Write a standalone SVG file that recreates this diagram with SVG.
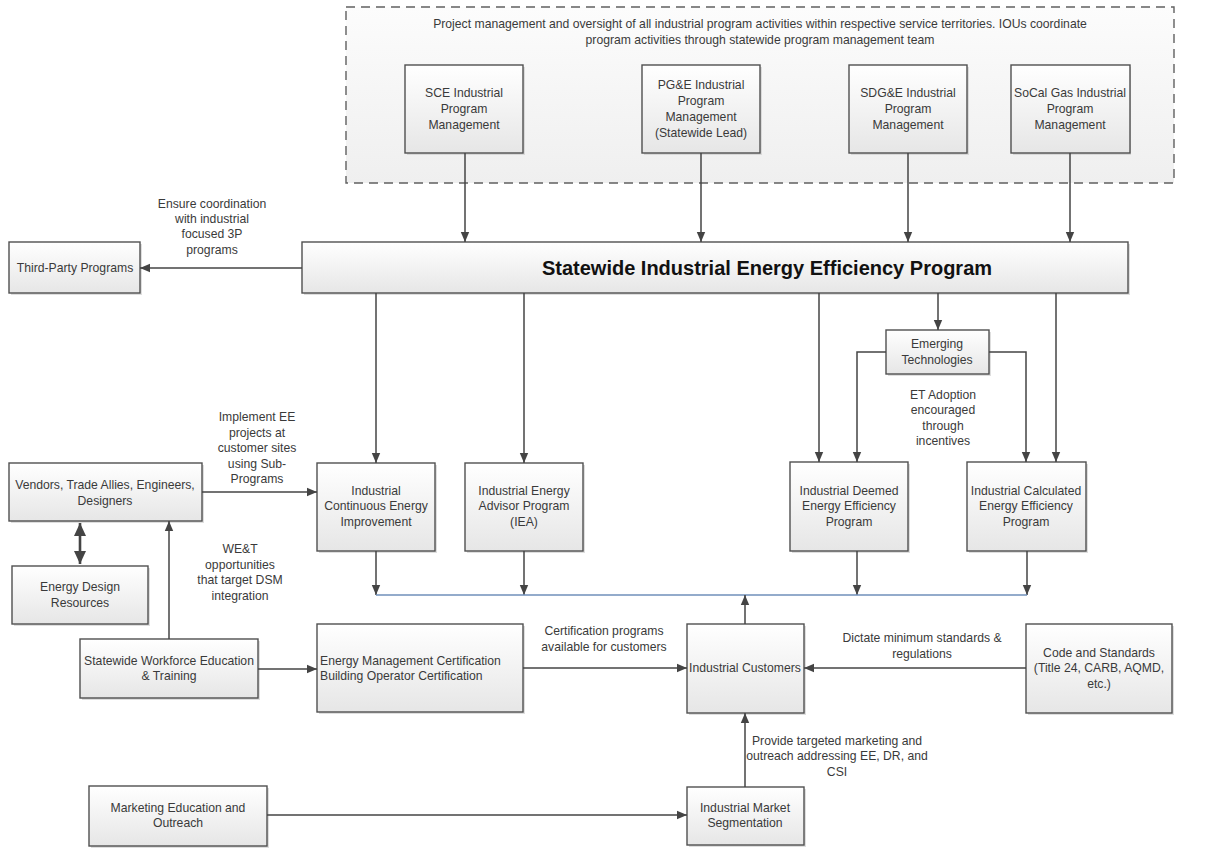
<svg xmlns="http://www.w3.org/2000/svg" width="1222" height="848" viewBox="0 0 1222 848">
<style>
text{font-family:"Liberation Sans",Arial,sans-serif;font-size:12.2px;fill:#3a3a3a;text-anchor:middle}
.l{text-anchor:start}
.title{font-size:20px;font-weight:bold;fill:#111}
.box{fill:url(#g);stroke:#505050;stroke-width:1.4}
.sh{fill:#c8c8c8;opacity:.6}
.c{fill:none;stroke:#444;stroke-width:1.5}
.blue{fill:none;stroke:#6f8fba;stroke-width:1.6}
.dbl{fill:none;stroke:#444;stroke-width:2.6}
</style>
<defs>
<linearGradient id="g" x1="0" y1="0" x2="0" y2="1"><stop offset="0" stop-color="#ffffff"/><stop offset="1" stop-color="#e6e6e6"/></linearGradient>
<linearGradient id="gc" x1="0" y1="0" x2="0" y2="1"><stop offset="0" stop-color="#fcfcfc"/><stop offset="1" stop-color="#efefef"/></linearGradient>
<marker id="a" markerUnits="userSpaceOnUse" markerWidth="10" markerHeight="10" refX="10" refY="5" orient="auto"><path d="M0,0.8 L10,5 L0,9.2 z" fill="#444"/></marker>
<marker id="ab" markerUnits="userSpaceOnUse" markerWidth="14" markerHeight="14" refX="13" refY="7" orient="auto-start-reverse"><path d="M0,1 L13,7 L0,13 z" fill="#444"/></marker>
</defs>

<g id="container">
<rect x="346" y="7" width="828" height="176" fill="url(#gc)" stroke="#606060" stroke-width="1.4" stroke-dasharray="9,6"/>
<text x="760" y="28">Project management and oversight of all industrial program activities within respective service territories. IOUs coordinate</text>
<text x="760" y="44">program activities through statewide program management team</text>
</g>

<g id="sce"><rect class="sh" x="407" y="67" width="118" height="88"/><rect class="box" x="405" y="65" width="118" height="88"/>
<text x="464" y="97">SCE Industrial</text><text x="464" y="113">Program</text><text x="464" y="129">Management</text></g>
<g id="pge"><rect class="sh" x="644" y="67" width="118" height="88"/><rect class="box" x="642" y="65" width="118" height="88"/>
<text x="701" y="89">PG&amp;E Industrial</text><text x="701" y="105">Program</text><text x="701" y="121">Management</text><text x="701" y="137">(Statewide Lead)</text></g>
<g id="sdge"><rect class="sh" x="851" y="67" width="118" height="88"/><rect class="box" x="849" y="65" width="118" height="88"/>
<text x="908" y="97">SDG&amp;E Industrial</text><text x="908" y="113">Program</text><text x="908" y="129">Management</text></g>
<g id="socal"><rect class="sh" x="1013" y="67" width="118" height="88"/><rect class="box" x="1011" y="65" width="119" height="88"/>
<text x="1070" y="97">SoCal Gas Industrial</text><text x="1070" y="113">Program</text><text x="1070" y="129">Management</text></g>

<g id="statewide"><rect class="sh" x="304" y="244" width="826" height="51"/><rect class="box" x="302" y="242" width="826" height="51"/>
<text class="title" x="767" y="275">Statewide Industrial Energy Efficiency Program</text></g>

<g id="thirdparty"><rect class="sh" x="11" y="244" width="131" height="51"/><rect class="box" x="9" y="242" width="131" height="51"/>
<text x="75" y="272">Third-Party Programs</text></g>

<g id="et"><rect class="sh" x="888" y="332" width="103" height="44"/><rect class="box" x="886" y="330" width="103" height="44"/>
<text x="937" y="348">Emerging</text><text x="937" y="364">Technologies</text></g>

<g id="vendors"><rect class="sh" x="11" y="465" width="193" height="58"/><rect class="box" x="9" y="463" width="193" height="58"/>
<text x="105" y="489">Vendors, Trade Allies, Engineers,</text><text x="105" y="505">Designers</text></g>

<g id="edr"><rect class="sh" x="14" y="568" width="136" height="58"/><rect class="box" x="12" y="566" width="136" height="58"/>
<text x="80" y="591">Energy Design</text><text x="80" y="607">Resources</text></g>

<g id="ice"><rect class="sh" x="319" y="465" width="118" height="88"/><rect class="box" x="317" y="463" width="118" height="88"/>
<text x="376" y="495">Industrial</text><text x="376" y="510">Continuous Energy</text><text x="376" y="526">Improvement</text></g>

<g id="iea"><rect class="sh" x="467" y="465" width="118" height="88"/><rect class="box" x="465" y="463" width="118" height="88"/>
<text x="524" y="495">Industrial Energy</text><text x="524" y="510">Advisor Program</text><text x="524" y="526">(IEA)</text></g>

<g id="deemed"><rect class="sh" x="792" y="464" width="118" height="89"/><rect class="box" x="790" y="462" width="118" height="89"/>
<text x="849" y="495">Industrial Deemed</text><text x="849" y="510">Energy Efficiency</text><text x="849" y="526">Program</text></g>

<g id="calculated"><rect class="sh" x="969" y="464" width="119" height="89"/><rect class="box" x="967" y="462" width="119" height="89"/>
<text x="1026" y="495">Industrial Calculated</text><text x="1026" y="510">Energy Efficiency</text><text x="1026" y="526">Program</text></g>

<g id="wet"><rect class="sh" x="82" y="641" width="178" height="59"/><rect class="box" x="80" y="639" width="178" height="59"/>
<text x="169" y="665">Statewide Workforce Education</text><text x="169" y="680">&amp; Training</text></g>

<g id="emc"><rect class="sh" x="319" y="626" width="206" height="88"/><rect class="box" x="317" y="624" width="206" height="88"/>
<text class="l" x="320" y="665">Energy Management Certification</text><text class="l" x="320" y="680">Building Operator Certification</text></g>

<g id="customers"><rect class="sh" x="689" y="626" width="117" height="89"/><rect class="box" x="687" y="624" width="117" height="89"/>
<text x="745" y="672">Industrial Customers</text></g>

<g id="code"><rect class="sh" x="1028" y="626" width="146" height="89"/><rect class="box" x="1026" y="624" width="146" height="89"/>
<text x="1099" y="657">Code and Standards</text><text x="1099" y="672">(Title 24, CARB, AQMD,</text><text x="1099" y="688">etc.)</text></g>

<g id="marketing"><rect class="sh" x="91" y="788" width="178" height="60"/><rect class="box" x="89" y="786" width="178" height="60"/>
<text x="178" y="812">Marketing Education and</text><text x="178" y="827">Outreach</text></g>

<g id="segmentation"><rect class="sh" x="689" y="789" width="117" height="58"/><rect class="box" x="687" y="787" width="117" height="58"/>
<text x="745" y="812">Industrial Market</text><text x="745" y="827">Segmentation</text></g>

<g id="connectors">
<path class="c" d="M465,153 V242" marker-end="url(#a)"/>
<path class="c" d="M701,153 V242" marker-end="url(#a)"/>
<path class="c" d="M908,153 V242" marker-end="url(#a)"/>
<path class="c" d="M1070,153 V242" marker-end="url(#a)"/>
<path class="c" d="M302,268 H140" marker-end="url(#a)"/>
<path class="c" d="M376,293 V463" marker-end="url(#a)"/>
<path class="c" d="M524,293 V463" marker-end="url(#a)"/>
<path class="c" d="M819,293 V462" marker-end="url(#a)"/>
<path class="c" d="M1056,293 V462" marker-end="url(#a)"/>
<path class="c" d="M938,293 V330" marker-end="url(#a)"/>
<path class="c" d="M886,352 H857 V462" marker-end="url(#a)"/>
<path class="c" d="M989,352 H1026 V462" marker-end="url(#a)"/>
<path class="c" d="M376,551 V595" marker-end="url(#a)"/>
<path class="c" d="M524,551 V595" marker-end="url(#a)"/>
<path class="c" d="M857,551 V595" marker-end="url(#a)"/>
<path class="c" d="M1027,551 V595" marker-end="url(#a)"/>
<path class="blue" d="M376,595 H1027"/>
<path class="c" d="M745,624 V595" marker-end="url(#a)"/>
<path class="c" d="M202,492 H317" marker-end="url(#a)"/>
<path class="dbl" d="M80,523 V564" marker-start="url(#ab)" marker-end="url(#ab)"/>
<path class="c" d="M169,639 V521" marker-end="url(#a)"/>
<path class="c" d="M258,669 H317" marker-end="url(#a)"/>
<path class="c" d="M523,668 H687" marker-end="url(#a)"/>
<path class="c" d="M1026,668 H804" marker-end="url(#a)"/>
<path class="c" d="M745,787 V713" marker-end="url(#a)"/>
<path class="c" d="M267,815 H687" marker-end="url(#a)"/>
<text x="212" y="208">Ensure coordination</text><text x="212" y="223">with industrial</text><text x="212" y="238">focused 3P</text><text x="212" y="254">programs</text>
<text x="943" y="399">ET Adoption</text><text x="943" y="414">encouraged</text><text x="943" y="430">through</text><text x="943" y="445">incentives</text>
<text x="257" y="421">Implement EE</text><text x="257" y="437">projects at</text><text x="257" y="452">customer sites</text><text x="257" y="468">using Sub-</text><text x="257" y="483">Programs</text>
<text x="240" y="553">WE&amp;T</text><text x="240" y="569">opportunities</text><text x="240" y="584">that target DSM</text><text x="240" y="600">integration</text>
<text x="604" y="635">Certification programs</text><text x="604" y="651">available for customers</text>
<text x="922" y="642">Dictate minimum standards &amp;</text><text x="922" y="658">regulations</text>
<text x="837" y="745">Provide targeted marketing and</text><text x="837" y="760">outreach addressing EE, DR, and</text><text x="837" y="776">CSI</text>
</g>
</svg>
